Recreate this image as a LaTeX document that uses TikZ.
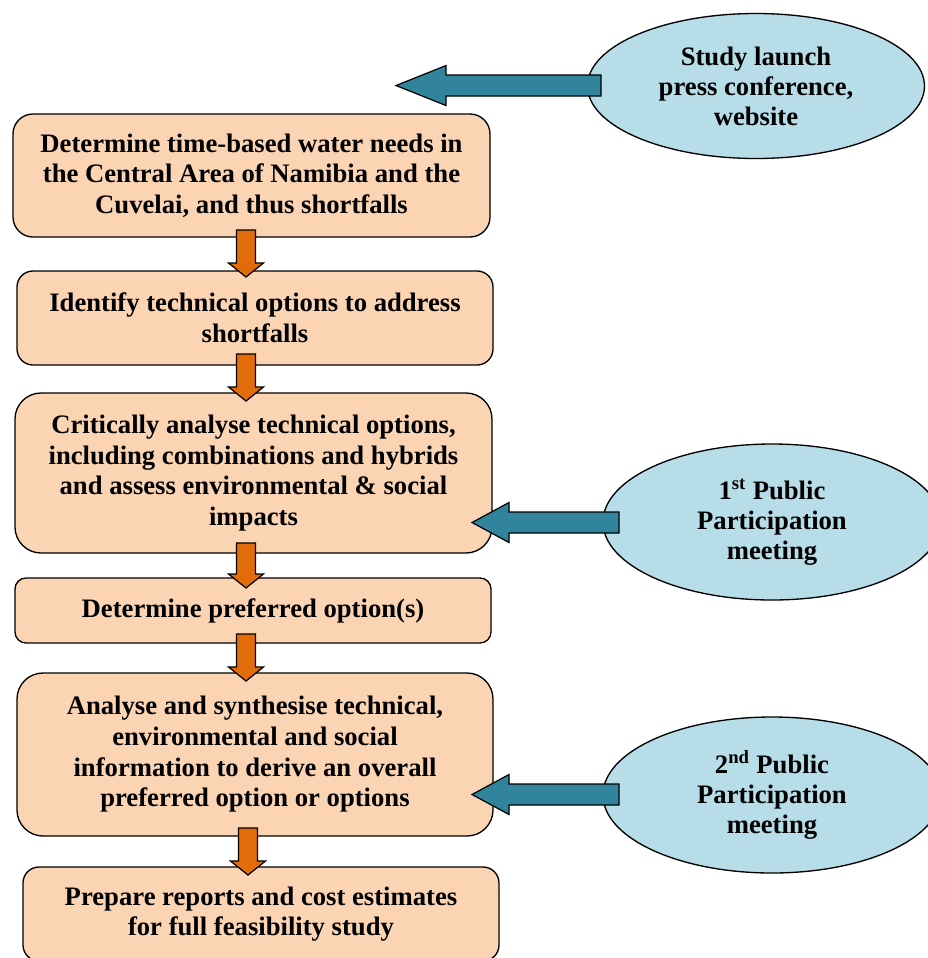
\documentclass[tikz,border=0pt]{standalone}
\usepackage{fontspec}
\setmainfont{Liberation Serif}
\usetikzlibrary{shapes.geometric}
\definecolor{peach}{HTML}{FBD4B4}
\definecolor{paleblue}{HTML}{B6DDE8}
\definecolor{tealarrow}{HTML}{31849B}
\definecolor{orangearrow}{HTML}{E36C0A}
\newcommand{\downarrowblock}[3]{% cx, top, tip
  \filldraw[orangeblk] (#1-9.5,#2) -- (#1+9.5,#2) -- (#1+9.5,#3-14) -- (#1+17.5,#3-14) -- (#1,#3) -- (#1-17.5,#3-14) -- (#1-9.5,#3-14) -- cycle;}
\newcommand{\leftarrowblock}[4]{% tipx, cy, headx, rightx
  \filldraw[tealblk] (#1,#2) -- (#3,#2-20) -- (#3,#2-10.5) -- (#4,#2-10.5) -- (#4,#2+10.5) -- (#3,#2+10.5) -- (#3,#2+20) -- cycle;}
\begin{document}
\begin{tikzpicture}[x=0.75pt,y=-0.75pt,
  stepbox/.style={draw=black,line width=1pt,fill=peach,inner sep=0pt,align=center,
     font=\fontsize{20}{23}\selectfont\bfseries},
  evt/.style={ellipse,draw=black,line width=1pt,fill=paleblue,inner sep=0pt,align=center,
     font=\fontsize{20}{22.5}\selectfont\bfseries},
  orangeblk/.style={draw=black,line width=0.9pt,fill=orangearrow,line join=miter},
  tealblk/.style={draw=black,line width=0.9pt,fill=tealarrow,line join=miter}]
\useasboundingbox (0,0) rectangle (928,958);
\clip (0,0) rectangle (928,958);

\node[stepbox,minimum width=357.75pt,minimum height=92.25pt,rounded corners=15pt] (b1) at (251.5,175.5)
  {Determine time-based water needs in\\the Central Area of Namibia and the\\Cuvelai, and thus shortfalls};
\node[stepbox,minimum width=357pt,minimum height=70.5pt,rounded corners=12pt] (b2) at (255,318)
  {Identify technical options to address\\shortfalls};
\node[stepbox,minimum width=357.75pt,minimum height=120pt,rounded corners=19.5pt] (b3) at (253.5,473)
  {Critically analyse technical options,\\including combinations and hybrids\\and assess environmental \& social\\impacts};
\node[stepbox,minimum width=357pt,minimum height=48.75pt,rounded corners=8.25pt] (b4) at (253,610.5)
  {Determine preferred option(s)};
\node[stepbox,minimum width=357pt,minimum height=122.25pt,rounded corners=19.5pt] (b5) at (255,754.5)
  {Analyse and synthesise technical,\\environmental and social\\information to derive an overall\\preferred option or options};
\node[stepbox,minimum width=357pt,minimum height=70.5pt,rounded corners=12pt] (b6) at (261,914)
  {Prepare reports and cost estimates\\for full feasibility study};

\node[evt,minimum width=252.75pt,minimum height=108.75pt] (e1) at (756,86) {Study launch\\press conference,\\website};
\node[evt,minimum width=253.5pt,minimum height=117pt] (e2) at (772,522) {1\textsuperscript{st} Public\\Participation\\meeting};
\node[evt,minimum width=253.5pt,minimum height=117pt] (e3) at (772,795) {2\textsuperscript{nd} Public\\Participation\\meeting};

\downarrowblock{246}{230}{277}
\downarrowblock{246}{354}{401}
\downarrowblock{246}{543}{588}
\downarrowblock{246}{634}{681}
\downarrowblock{248}{828}{875}

\leftarrowblock{396}{85.5}{446}{601}
\leftarrowblock{472}{522.5}{509}{619}
\leftarrowblock{472}{794.5}{509}{619}
\end{tikzpicture}
\end{document}
